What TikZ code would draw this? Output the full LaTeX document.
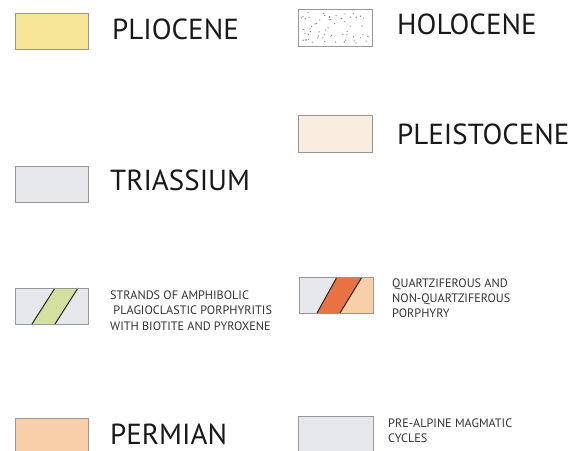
\documentclass[tikz,border=0pt]{standalone}
\usepackage{fontspec}
\setmainfont{PT Sans}
\definecolor{frameg}{RGB}{150,150,150}
\definecolor{plioc}{RGB}{247,230,152}
\definecolor{trias}{RGB}{230,231,235}
\definecolor{pleis}{RGB}{249,237,224}
\definecolor{perm}{RGB}{248,207,168}
\definecolor{orng}{RGB}{232,114,66}
\definecolor{grn}{RGB}{211,225,160}
\definecolor{txtbig}{RGB}{25,25,25}
\definecolor{txtsmall}{RGB}{50,50,50}
\definecolor{dotc}{RGB}{120,120,120}
\tikzset{
  legbox/.style={draw=frameg, line width=0.9pt},
  biglabel/.style={anchor=base west, inner sep=0pt, text=txtbig, font=\fontsize{29}{32}\selectfont},
  smalllabel/.style={anchor=base west, inner sep=0pt, text=txtsmall, font=\fontsize{12.2}{15.5}\selectfont, align=left},
  stripeedge/.style={draw=black!85, line width=1pt}
}
\begin{document}
\begin{tikzpicture}[x=1pt,y=-1pt]
\useasboundingbox (0,0) rectangle (572,450);
\clip (0,0) rectangle (572,450);
% PLIOCENE
\draw[legbox, fill=plioc] (15,13) rectangle (88,49);
\node[biglabel] (plio) at (112,39) {PLIOCENE};
% HOLOCENE
\draw[legbox, fill=white] (298,9) rectangle (372,46);
\pgfmathsetseed{7}
\foreach \i in {1,...,60}{
  \pgfmathsetmacro{\dx}{301+68*rnd}
  \pgfmathsetmacro{\dy}{12+31*rnd}
  \fill[dotc] (\dx,\dy) circle (0.65pt);
}
\node[biglabel] (holo) at (397,34) {HOLOCENE};
% PLEISTOCENE
\draw[legbox, fill=pleis] (298,115) rectangle (372,152);
\node[biglabel] (pleist) at (397,144) {PLEISTOCENE};
% TRIASSIUM
\draw[legbox, fill=trias] (15,166) rectangle (88,202);
\node[biglabel] (trias) at (110,190) {TRIASSIUM};
% STRANDS
\draw[legbox, fill=trias] (15,288) rectangle (88,324);
\fill[grn] (32,324) -- (55,288) -- (78,288) -- (55,324) -- cycle;
\draw[stripeedge] (32,324) -- (55,288);
\draw[stripeedge] (55,324) -- (78,288);
\draw[legbox] (15,288) rectangle (88,324);
\node[smalllabel] (strands) at (110,330) {STRANDS OF AMPHIBOLIC\\\ PLAGIOCLASTIC PORPHYRITIS\\WITH BIOTITE AND PYROXENE};
% QUARTZ
\fill[trias] (299,277) rectangle (373,313);
\fill[perm] (340,313) -- (362,277) -- (373,277) -- (373,313) -- cycle;
\fill[orng] (317,313) -- (337,277) -- (362,277) -- (340,313) -- cycle;
\draw[stripeedge] (317,313) -- (337,277);
\draw[stripeedge] (340,313) -- (362,277);
\draw[legbox] (299,277) rectangle (373,313);
\node[smalllabel, font=\fontsize{12.2}{15}\selectfont] (quartz) at (392,317) {QUARTZIFEROUS AND\\NON-QUARTZIFEROUS\\PORPHYRY};
% PERMIAN
\draw[legbox, fill=perm] (15,418) rectangle (88,460);
\node[biglabel] (perm) at (110,444) {PERMIAN};
% PRE-ALPINE
\draw[legbox, fill=trias] (298,416) rectangle (373,460);
\node[smalllabel, font=\fontsize{12.2}{15}\selectfont] (prealp) at (388,442) {PRE-ALPINE MAGMATIC\\CYCLES};
\end{tikzpicture}
\end{document}
